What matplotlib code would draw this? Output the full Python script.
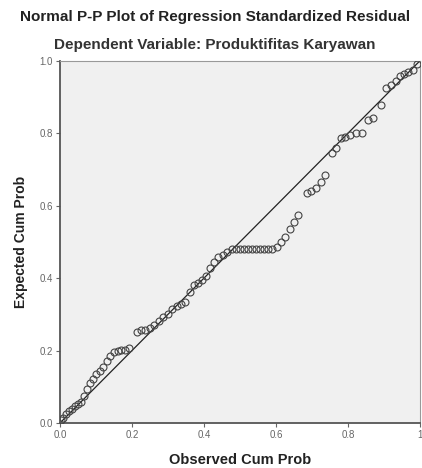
import matplotlib.pyplot as plt

# observed cum prob (x) and expected cum prob (y)
observed = [0.003, 0.009, 0.017, 0.025, 0.033, 0.042, 0.050, 0.058, 0.066, 0.075,
            0.083, 0.092, 0.100, 0.110, 0.120, 0.130, 0.140, 0.150, 0.160, 0.170,
            0.180, 0.192, 0.213, 0.225, 0.237, 0.250, 0.262, 0.274, 0.287, 0.300,
            0.312, 0.324, 0.336, 0.348, 0.360, 0.372, 0.384, 0.395, 0.405, 0.416,
            0.428, 0.440, 0.452, 0.463, 0.478, 0.489, 0.500, 0.511, 0.522, 0.533,
            0.544, 0.555, 0.566, 0.577, 0.590, 0.603, 0.614, 0.625, 0.638, 0.650,
            0.660, 0.685, 0.698, 0.712, 0.724, 0.736, 0.755, 0.768, 0.780, 0.793,
            0.806, 0.822, 0.838, 0.856, 0.870, 0.893, 0.907, 0.920, 0.933, 0.945,
            0.957, 0.968, 0.980, 0.992]
expected = [0.008, 0.015, 0.024, 0.032, 0.040, 0.046, 0.052, 0.058, 0.075, 0.095,
            0.110, 0.122, 0.135, 0.145, 0.155, 0.170, 0.185, 0.195, 0.200, 0.202,
            0.203, 0.208, 0.252, 0.256, 0.258, 0.262, 0.270, 0.282, 0.292, 0.302,
            0.315, 0.322, 0.330, 0.335, 0.362, 0.380, 0.388, 0.395, 0.405, 0.428,
            0.445, 0.458, 0.465, 0.472, 0.480, 0.480, 0.480, 0.480, 0.480, 0.480,
            0.480, 0.480, 0.480, 0.480, 0.480, 0.485, 0.500, 0.515, 0.535, 0.555,
            0.575, 0.635, 0.640, 0.650, 0.665, 0.685, 0.745, 0.760, 0.787, 0.790,
            0.795, 0.800, 0.802, 0.837, 0.842, 0.878, 0.925, 0.934, 0.945, 0.958,
            0.965, 0.970, 0.975, 0.990]

x_ticks = [0.0, 0.2, 0.4, 0.6, 0.8, 1.0]
x_tick_labels = ['0.0', '0.2', '0.4', '0.6', '0.8', '1']
y_ticks = [0.0, 0.2, 0.4, 0.6, 0.8, 1.0]
y_tick_labels = ['0.0', '0.2', '0.4', '0.6', '0.8', '1.0']

plt.rcParams['font.family'] = ['Liberation Sans', 'DejaVu Sans']

fig = plt.figure(figsize=(4.22, 4.68), dpi=100)
ax = fig.add_axes([0.142, 0.096, 0.853, 0.774])
ax.set_facecolor('#f0f0f0')

ax.plot([0, 1], [0, 1], color='#222222', linewidth=0.9, zorder=2)
ax.plot(observed, expected, linestyle='none', marker='o', markersize=5,
        markerfacecolor='none', markeredgecolor='#444444', markeredgewidth=0.8,
        zorder=3)

ax.set_xlim(0, 1)
ax.set_ylim(0, 1)
ax.set_xticks(x_ticks)
ax.set_xticklabels(x_tick_labels)
ax.set_yticks(y_ticks)
ax.set_yticklabels(y_tick_labels)
ax.tick_params(axis='both', labelsize=7, colors='#666666', length=3, width=0.8,
               pad=2)
for s in ['left', 'bottom']:
    ax.spines[s].set_color('#555555')
    ax.spines[s].set_linewidth(1.3)
for s in ['top', 'right']:
    ax.spines[s].set_color('#999999')
    ax.spines[s].set_linewidth(0.8)

ax.set_xlabel('Observed Cum Prob', fontsize=10.5, fontweight='bold',
              color='#222222', labelpad=9)
ax.set_ylabel('Expected Cum Prob', fontsize=10, fontweight='bold',
              color='#222222', labelpad=8)

fig.text(0.51, 0.963, 'Normal P-P Plot of Regression Standardized Residual',
         ha='center', va='center', fontsize=11, fontweight='bold', color='#222222')
fig.text(0.51, 0.904, 'Dependent Variable: Produktifitas Karyawan',
         ha='center', va='center', fontsize=11, fontweight='bold',
         color='#333333')

plt.savefig('out.png', dpi=100)
